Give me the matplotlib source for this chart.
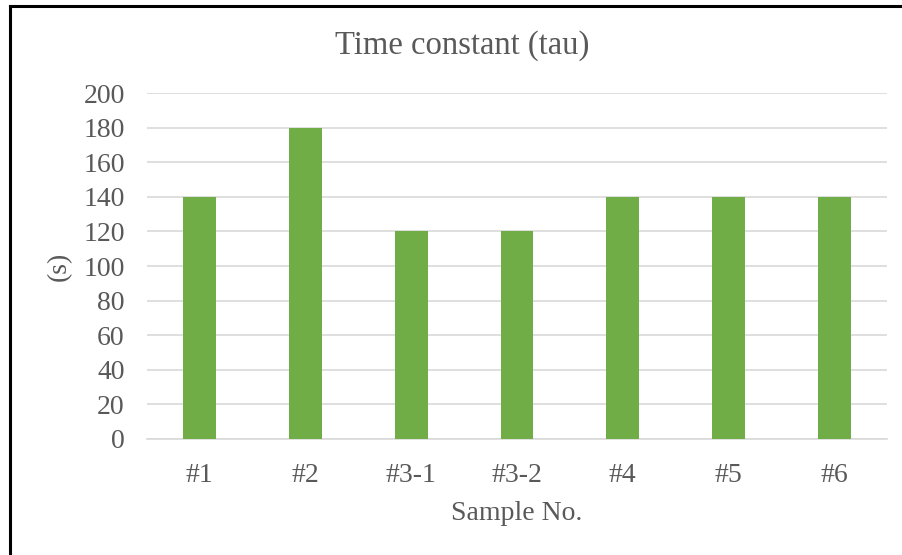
import matplotlib
matplotlib.use("Agg")
import matplotlib.pyplot as plt
from matplotlib.lines import Line2D

categories = ["#1", "#2", "#3-1", "#3-2", "#4", "#5", "#6"]
values = [140, 180, 120, 120, 140, 140, 140]
yticks = [0, 20, 40, 60, 80, 100, 120, 140, 160, 180, 200]

plt.rcParams['font.family'] = ['Liberation Serif', 'DejaVu Serif']
txt = '#595959'

W, H = 903, 555
fig = plt.figure(figsize=(W / 100, H / 100), dpi=100)
ax = fig.add_axes([147 / W, 1 - 439 / H, (887 - 147) / W, (439 - 93) / H])

x = list(range(len(categories)))
ax.bar(x, values, width=0.31, color='#70AD47', zorder=3)
ax.set_xlim(-0.5, len(categories) - 0.5)
ax.set_ylim(0, 200)
ax.set_yticks(yticks)
ax.set_xticks(x)
ax.set_xticklabels(categories)
ax.grid(axis='y', color='#D9D9D9', linewidth=1.2, zorder=0)
for s in ['top', 'right', 'left']:
    ax.spines[s].set_visible(False)
ax.spines['bottom'].set_color('#D9D9D9')
ax.spines['bottom'].set_linewidth(1.2)
ax.tick_params(axis='both', length=0, labelsize=20, labelcolor=txt)
ax.tick_params(axis='y', pad=16)
ax.tick_params(axis='x', pad=17)
ax.set_xlabel("Sample No.", fontsize=20, color=txt, labelpad=10)
ax.set_ylabel("(s)", fontsize=20, color=txt, labelpad=8)
fig.text(462 / W, 1 - 46 / H, "Time constant (tau)", ha='center', va='center',
         fontsize=23.5, color=txt)

fig.add_artist(Line2D([10.5 / W, 10.5 / W], [0, 1 - 5.5 / H], color='black', linewidth=2.2, transform=fig.transFigure))
fig.add_artist(Line2D([10 / W, 1], [1 - 5.5 / H, 1 - 5.5 / H], color='black', linewidth=2.2, transform=fig.transFigure))

fig.savefig("out.png", dpi=100)
